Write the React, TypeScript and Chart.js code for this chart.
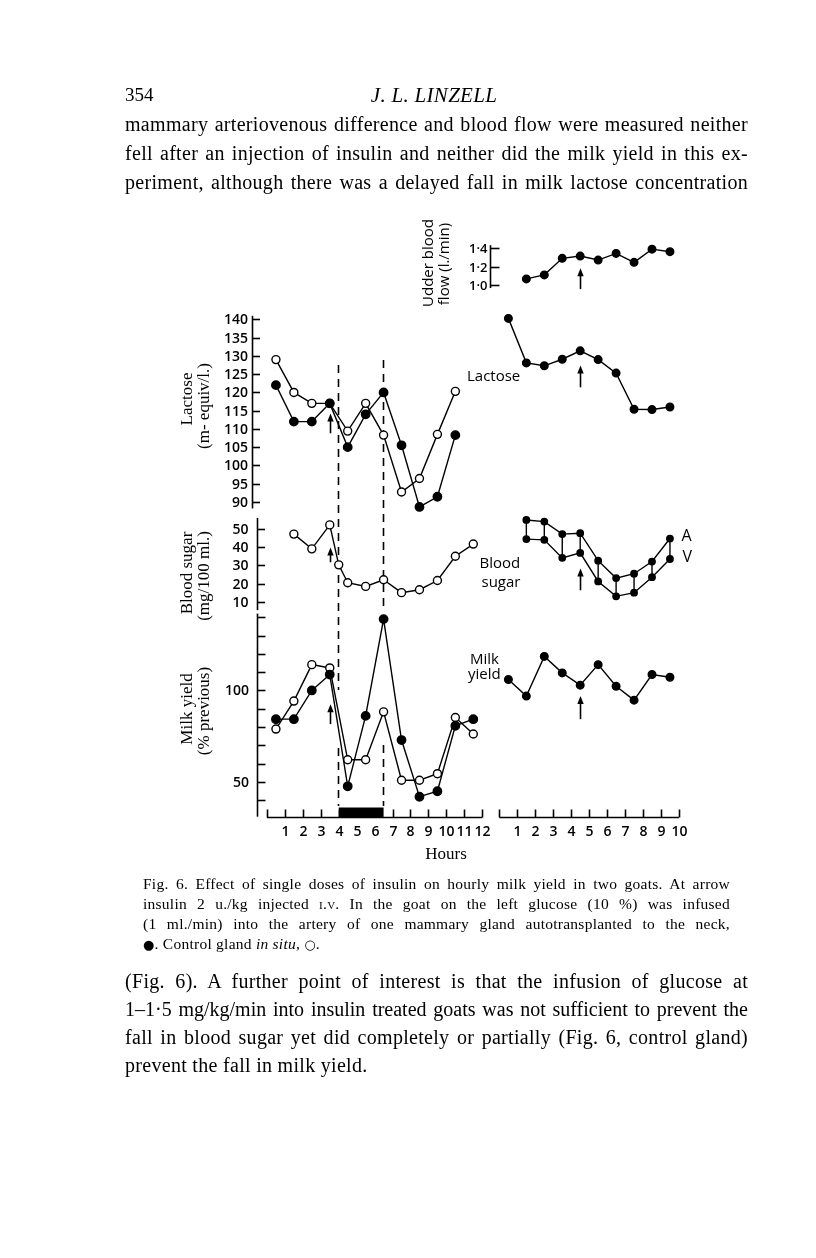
import React, { useEffect, useRef } from 'react';
import { Chart, registerables } from 'chart.js';

Chart.register(...registerables);

// ---------------- DATA ----------------
// Left goat (glucose infused gland ● vs control gland ○)
const leftHours = [0.5, 1.5, 2.5, 3.5, 4.5, 5.5, 6.5, 7.5, 8.5, 9.5, 10.5, 11.5];
const lactoseHoursL = [0.5, 1.5, 2.5, 3.5, 4.5, 5.5, 6.5, 7.5, 8.5, 9.5, 10.5];
const lactoseInfusedL = [122, 112, 112, 117, 105, 114, 120, 105.5, 88.6, 91.4, 108.3];
const lactoseControlL = [129, 120, 117, 117, 109.4, 117, 108.3, 92.7, 96.4, 108.5, 120.3];
const sugarHoursL = [1.5, 2.5, 3.5, 4, 4.5, 5.5, 6.5, 7.5, 8.5, 9.5, 10.5, 11.5];
const bloodSugarL = [47, 39, 52, 30.3, 20.6, 18.6, 22.2, 15.2, 16.8, 21.8, 35, 41.6];
const milkInfusedL = [84.3, 84.3, 100, 108.7, 47.6, 86.1, 139, 72.9, 41.9, 44.9, 80.7, 84.3];
const milkControlL = [78.9, 94.2, 114.1, 112.3, 62.1, 62.1, 88.3, 50.9, 50.9, 54.5, 85.2, 76.2];

// Right goat
const rightHours = [0.5, 1.5, 2.5, 3.5, 4.5, 5.5, 6.5, 7.5, 8.5, 9.5];
const flowHoursR = [1.5, 2.5, 3.5, 4.5, 5.5, 6.5, 7.5, 8.5, 9.5];
const udderFlowR = [1.065, 1.109, 1.291, 1.316, 1.272, 1.345, 1.247, 1.392, 1.364];
const lactoseR = [140.3, 128.1, 127.3, 129.1, 131.4, 129, 125.3, 115.4, 115.3, 116];
const sugarHoursR = [1.5, 2.5, 3.5, 4.5, 5.5, 6.5, 7.5, 8.5, 9.5];
const sugarArterialR = [54.7, 53.8, 47, 47.5, 32.6, 23.1, 25.5, 32.1, 44.6];
const sugarVenousR = [44.3, 43.9, 34.1, 36.8, 21.3, 13.2, 15.2, 23.6, 33.5];
const milkR = [106, 96.9, 118.6, 109.6, 102.9, 114.1, 102.3, 94.7, 108.7, 107.2];

// Ticks
const lactoseTicks = [140, 135, 130, 125, 120, 115, 110, 105, 100, 95, 90];
const sugarTicks = [50, 40, 30, 20, 10];
const milkTicks = [140, 130, 120, 110, 100, 90, 80, 70, 60, 50, 40];
const milkTickLabels = [100, 50];
const flowTicks = [1.4, 1.2, 1.0];
const flowTickLabels = ['1·4', '1·2', '1·0'];
const hourTicksL = [0, 1, 2, 3, 4, 5, 6, 7, 8, 9, 10, 11, 12];
const hourTicksR = [0, 1, 2, 3, 4, 5, 6, 7, 8, 9, 10];

// Events
const insulinHourL = 3.5;
const insulinHourR = 4.5;
const glucoseInfusion = [4, 6.5];

// ---------------- LAYOUT ----------------
const W = 816;
const H = 1258;
// [value1, pixel1, value2, pixel2]
const ANCH = {
  xL: [0, 265, 12, 483.3],
  xR: [0, 500.7, 10, 682.7],
  yLac: [140, 316.7, 90, 500.7],
  yBS: [50, 527.7, 10, 602],
  yMilk: [100, 691, 50, 783.3],
  yFlow: [1.4, 245, 1.0, 281.7],
};
function rangeX(a: number[]) {
  const k = (a[2] - a[0]) / (a[3] - a[1]);
  return { min: a[0] + (0 - a[1]) * k, max: a[0] + (W - a[1]) * k };
}
function rangeY(a: number[]) {
  const k = (a[2] - a[0]) / (a[3] - a[1]);
  return { max: a[0] + (0 - a[1]) * k, min: a[0] + (H - a[1]) * k };
}

const TICK_FONT = '600 14px "Open Sans", "DejaVu Sans", sans-serif';
const SANS_FONT = '15px "Open Sans", "DejaVu Sans", sans-serif';
const SERIF_FONT = '17px "Liberation Serif", "DejaVu Serif", serif';

const pts = (xs: number[], ys: number[]) => xs.map((x, i) => ({ x, y: ys[i] }));

const decorPlugin = {
  id: 'decor',
  beforeDatasetsDraw(chart: any) {
    const ctx = chart.ctx as CanvasRenderingContext2D;
    const s = chart.scales;
    ctx.save();
    ctx.strokeStyle = '#000';
    ctx.fillStyle = '#000';

    // glucose infusion dashed guides
    ctx.lineWidth = 1.6;
    ctx.setLineDash([8, 6]);
    const segs = [
      [glucoseInfusion[0], 365, 690],
      [glucoseInfusion[0], 748, 806],
      [glucoseInfusion[1], 360, 612],
      [glucoseInfusion[1], 745, 806],
    ];
    for (const [h, y0, y1] of segs) {
      const x = Math.round(s.xL.getPixelForValue(h)) - 0.5;
      ctx.beginPath();
      ctx.moveTo(x, y0);
      ctx.lineTo(x, y1);
      ctx.stroke();
    }
    ctx.setLineDash([]);

    // y axes
    const yAxes = [
      { id: 'yLac', x: 251.7, top: 141, bottom: 88.2, ticks: lactoseTicks, labels: lactoseTicks.map(String), font: TICK_FONT, gap: 4.5, len: 7.5 },
      { id: 'yBS', x: 257.3, top: 55.8, bottom: 5.7, ticks: sugarTicks, labels: sugarTicks.map(String), font: TICK_FONT, gap: 9, len: 7.5 },
      { id: 'yMilk', x: 256.7, top: 142, bottom: 31, ticks: milkTicks, labels: milkTicks.map((v) => (milkTickLabels.includes(v) ? String(v) : '')), font: TICK_FONT, gap: 8.5, len: 8 },
      { id: 'yFlow', x: 490, top: 1.436, bottom: 0.964, ticks: flowTicks, labels: flowTickLabels, font: '600 13px "Open Sans", "DejaVu Sans", sans-serif', gap: 3, len: 9 },
    ];
    ctx.lineWidth = 1.6;
    for (const a of yAxes) {
      const sc = s[a.id];
      const x = Math.round(a.x) + 0.5;
      ctx.beginPath();
      ctx.moveTo(x, sc.getPixelForValue(a.top));
      ctx.lineTo(x, sc.getPixelForValue(a.bottom));
      ctx.stroke();
      ctx.font = a.font;
      ctx.textAlign = 'right';
      ctx.textBaseline = 'middle';
      a.ticks.forEach((t: number, i: number) => {
        const y = Math.round(sc.getPixelForValue(t)) + 0.5;
        ctx.beginPath();
        ctx.moveTo(x, y);
        ctx.lineTo(x + a.len, y);
        ctx.stroke();
        if (a.labels[i]) ctx.fillText(a.labels[i], x - a.gap, y + 0.5);
      });
    }

    // x axes (hours)
    const xAxes = [
      { id: 'xL', ticks: hourTicksL },
      { id: 'xR', ticks: hourTicksR },
    ];
    const baseY = 817.5;
    ctx.font = TICK_FONT;
    ctx.textAlign = 'center';
    ctx.textBaseline = 'middle';
    for (const a of xAxes) {
      const sc = s[a.id];
      const x0 = sc.getPixelForValue(a.ticks[0]);
      const x1 = sc.getPixelForValue(a.ticks[a.ticks.length - 1]);
      ctx.beginPath();
      ctx.moveTo(x0, baseY);
      ctx.lineTo(x1, baseY);
      ctx.stroke();
      for (const t of a.ticks) {
        const x = Math.round(sc.getPixelForValue(t)) + 0.5;
        ctx.beginPath();
        ctx.moveTo(x, baseY);
        ctx.lineTo(x, baseY - 8);
        ctx.stroke();
        if (t > 0) ctx.fillText(String(t), x, 832.5);
      }
    }
    // black infusion bar on the time axis
    const bx0 = s.xL.getPixelForValue(glucoseInfusion[0]);
    const bx1 = s.xL.getPixelForValue(glucoseInfusion[1]);
    ctx.fillRect(bx0, baseY - 10, bx1 - bx0, 10.5);

    ctx.restore();
  },
  afterDatasetsDraw(chart: any) {
    const ctx = chart.ctx as CanvasRenderingContext2D;
    const s = chart.scales;
    ctx.save();
    ctx.strokeStyle = '#000';
    ctx.fillStyle = '#000';

    // insulin arrows
    const arrows = [
      { x: 'xL', y: 'yLac', at: insulinHourL, from: 108.8, to: 114.2 },
      { x: 'xL', y: 'yBS', at: insulinHourL, from: 31.7, to: 39.8 },
      { x: 'xL', y: 'yMilk', at: insulinHourL, from: 81.6, to: 92.4 },
      { x: 'xR', y: 'yFlow', at: insulinHourR, from: 0.953, to: 1.182 },
      { x: 'xR', y: 'yLac', at: insulinHourR, from: 121.4, to: 127.4 },
      { x: 'xR', y: 'yBS', at: insulinHourR, from: 16.5, to: 28.3 },
      { x: 'xR', y: 'yMilk', at: insulinHourR, from: 84.3, to: 96.9 },
    ];
    ctx.lineWidth = 1.6;
    for (const a of arrows) {
      const x = Math.round(s[a.x].getPixelForValue(a.at)) + 0.5;
      const yb = s[a.y].getPixelForValue(a.from);
      const yt = s[a.y].getPixelForValue(a.to);
      ctx.beginPath();
      ctx.moveTo(x, yb);
      ctx.lineTo(x, yt + 5);
      ctx.stroke();
      ctx.beginPath();
      ctx.moveTo(x, yt);
      ctx.lineTo(x - 3.2, yt + 8);
      ctx.lineTo(x + 3.2, yt + 8);
      ctx.closePath();
      ctx.fill();
    }

    // left titles (serif, rotated)
    const rot = (text: string, cx: number, cy: number, font: string) => {
      ctx.save();
      ctx.translate(cx, cy);
      ctx.rotate(-Math.PI / 2);
      ctx.font = font;
      ctx.textAlign = 'center';
      ctx.textBaseline = 'middle';
      ctx.fillText(text, 0, 0);
      ctx.restore();
    };
    rot('Lactose', 188, 399, SERIF_FONT);
    rot('(m- equiv/l.)', 204.5, 406, SERIF_FONT);
    rot('Blood sugar', 188, 573, SERIF_FONT);
    rot('(mg/100 ml.)', 205, 576, SERIF_FONT);
    rot('Milk yield', 188, 709, SERIF_FONT);
    rot('(% previous)', 205, 711, SERIF_FONT);
    rot('Udder blood', 429, 263, SANS_FONT);
    rot('flow (l./min)', 444.5, 264, SANS_FONT);

    // right panel labels (sans)
    ctx.font = SANS_FONT;
    ctx.textAlign = 'left';
    ctx.textBaseline = 'middle';
    ctx.fillText('Lactose', 467, 377);
    ctx.fillText('Blood', 479.5, 564);
    ctx.fillText('sugar', 481.5, 583);
    ctx.fillText('Milk', 470, 660);
    ctx.fillText('yield', 468, 675);
    ctx.font = '16px "Open Sans", "DejaVu Sans", sans-serif';
    ctx.fillText('A', 681.5, 536);
    ctx.fillText('V', 682.5, 557.5);

    ctx.font = '17px "Liberation Serif", "DejaVu Serif", serif';
    ctx.textAlign = 'center';
    ctx.fillText('Hours', 446, 855);
    ctx.restore();
  },
};

function lineSet(label: string, data: any[], xAxisID: string, yAxisID: string, filled: boolean, radius: number, extra: any = {}) {
  return {
    label,
    data,
    xAxisID,
    yAxisID,
    borderColor: '#000',
    borderWidth: 1.4,
    backgroundColor: filled ? '#000' : '#fff',
    pointBackgroundColor: filled ? '#000' : '#fff',
    pointBorderColor: '#000',
    pointBorderWidth: 1.4,
    pointRadius: radius,
    pointStyle: 'circle',
    tension: 0,
    fill: false,
    spanGaps: false,
    ...extra,
  };
}

function FigureChart() {
  const ref = useRef<HTMLCanvasElement>(null);
  useEffect(() => {
    if (!ref.current) return;
    const avLinks: any[] = [];
    sugarHoursR.forEach((h, i) => {
      avLinks.push({ x: h, y: sugarArterialR[i] }, { x: h, y: sugarVenousR[i] }, { x: h, y: null });
    });
    const chart = new Chart(ref.current, {
      type: 'line',
      data: {
        datasets: [
          lineSet('Lactose infused gland', pts(lactoseHoursL, lactoseInfusedL), 'xL', 'yLac', true, 4.2),
          lineSet('Lactose control gland', pts(lactoseHoursL, lactoseControlL), 'xL', 'yLac', false, 4),
          lineSet('Blood sugar', pts(sugarHoursL, bloodSugarL), 'xL', 'yBS', false, 4),
          lineSet('Milk infused gland', pts(leftHours, milkInfusedL), 'xL', 'yMilk', true, 4.2),
          lineSet('Milk control gland', pts(leftHours, milkControlL), 'xL', 'yMilk', false, 4),
          lineSet('Udder blood flow', pts(flowHoursR, udderFlowR), 'xR', 'yFlow', true, 3.8),
          lineSet('Lactose', pts(rightHours, lactoseR), 'xR', 'yLac', true, 3.8),
          lineSet('A-V links', avLinks, 'xR', 'yBS', true, 0),
          lineSet('Blood sugar A', pts(sugarHoursR, sugarArterialR), 'xR', 'yBS', true, 3.2),
          lineSet('Blood sugar V', pts(sugarHoursR, sugarVenousR), 'xR', 'yBS', true, 3.2),
          lineSet('Milk yield', pts(rightHours, milkR), 'xR', 'yMilk', true, 3.8),
        ],
      },
      options: {
        responsive: false,
        animation: false,
        devicePixelRatio: 1,
        events: [],
        layout: { padding: 0 },
        plugins: { legend: { display: false }, tooltip: { enabled: false }, title: { display: false } },
        scales: {
          xL: { type: 'linear', axis: 'x', display: false, ...rangeX(ANCH.xL) },
          xR: { type: 'linear', axis: 'x', display: false, ...rangeX(ANCH.xR) },
          yLac: { type: 'linear', axis: 'y', display: false, ...rangeY(ANCH.yLac) },
          yBS: { type: 'linear', axis: 'y', display: false, ...rangeY(ANCH.yBS) },
          yMilk: { type: 'linear', axis: 'y', display: false, ...rangeY(ANCH.yMilk) },
          yFlow: { type: 'linear', axis: 'y', display: false, ...rangeY(ANCH.yFlow) },
        } as any,
      },
      plugins: [decorPlugin],
    } as any);
    return () => chart.destroy();
  }, []);
  return <canvas ref={ref} width={W} height={H} style={{ position: 'absolute', left: 0, top: 0, width: W, height: H }} />;
}

// ---------------- PAGE TEXT ----------------
const bodyLines = [
  'mammary arteriovenous difference and blood flow were measured neither',
  'fell after an injection of insulin and neither did the milk yield in this ex-',
  'periment, although there was a delayed fall in milk lactose concentration',
];
const afterLines = [
  '(Fig. 6). A further point of interest is that the infusion of glucose at',
  '1\u20131\u00b75 mg/kg/min into insulin treated goats was not sufficient to prevent the',
  'fall in blood sugar yet did completely or partially (Fig. 6, control gland)',
  'prevent the fall in milk yield.',
];
const afterSpacing = ['0.3px', '0px', '0.3px', '0.3px'];

const serif = '"Liberation Serif", "DejaVu Serif", serif';

function TextLine({ text, top, left, width, size, lh, justify, spacing, children }: any) {
  return (
    <div
      style={{
        position: 'absolute',
        left,
        top,
        width,
        fontFamily: serif,
        fontSize: size,
        lineHeight: lh + 'px',
        letterSpacing: spacing ?? 0,
        whiteSpace: 'nowrap',
        textAlign: justify ? 'justify' : 'left',
        textAlignLast: justify ? 'justify' : 'left',
        color: '#000',
      } as any}
    >
      {children ?? text}
    </div>
  );
}

export default function App() {
  const L = 125;
  const TW = 623;
  return (
    <div style={{ position: 'absolute', left: 0, top: 0, width: W, height: H, background: '#fff', overflow: 'hidden' }}>
      <FigureChart />
      <div style={{ position: 'absolute', left: L, top: 84, fontFamily: serif, fontSize: 19, lineHeight: '22px', color: '#000' }}>354</div>
      <div style={{ position: 'absolute', left: 327, width: 214, textAlign: 'center', top: 83, fontFamily: serif, fontSize: 21, fontStyle: 'italic', letterSpacing: '0.3px', lineHeight: '24px', color: '#000' }}>
        J. L. LINZELL
      </div>
      {bodyLines.map((t, i) => (
        <TextLine key={'b' + i} text={t} left={L} width={TW} top={110 + i * 29} size={20} lh={28} spacing="0.3px" justify />
      ))}
      <TextLine left={143} width={587} top={874} size={15.5} lh={20} spacing="0.25px" justify text="Fig. 6. Effect of single doses of insulin on hourly milk yield in two goats. At arrow" />
      <TextLine left={143} width={587} top={894} size={15.5} lh={20} spacing="0.25px" justify>
        insulin 2 u./kg injected <span style={{ fontVariant: 'small-caps' }}>i.v.</span> In the goat on the left glucose (10 %) was infused
      </TextLine>
      <TextLine left={143} width={587} top={914} size={15.5} lh={20} spacing="0.25px" justify text="(1 ml./min) into the artery of one mammary gland autotransplanted to the neck," />
      <TextLine left={143} width={587} top={934} size={15.5} lh={20} spacing="0.25px" justify={false}>
        <span style={{ fontFamily: '"DejaVu Sans", sans-serif', fontSize: 13 }}>●</span>. Control gland <i>in situ</i>, <span style={{ fontFamily: '"DejaVu Sans", sans-serif', fontSize: 13 }}>○</span>.
      </TextLine>
      {afterLines.map((t, i) => (
        <TextLine key={'a' + i} text={t} left={L} width={TW} top={967 + i * 28} size={20} lh={28} spacing={afterSpacing[i]} justify={i < afterLines.length - 1} />
      ))}
    </div>
  );
}
